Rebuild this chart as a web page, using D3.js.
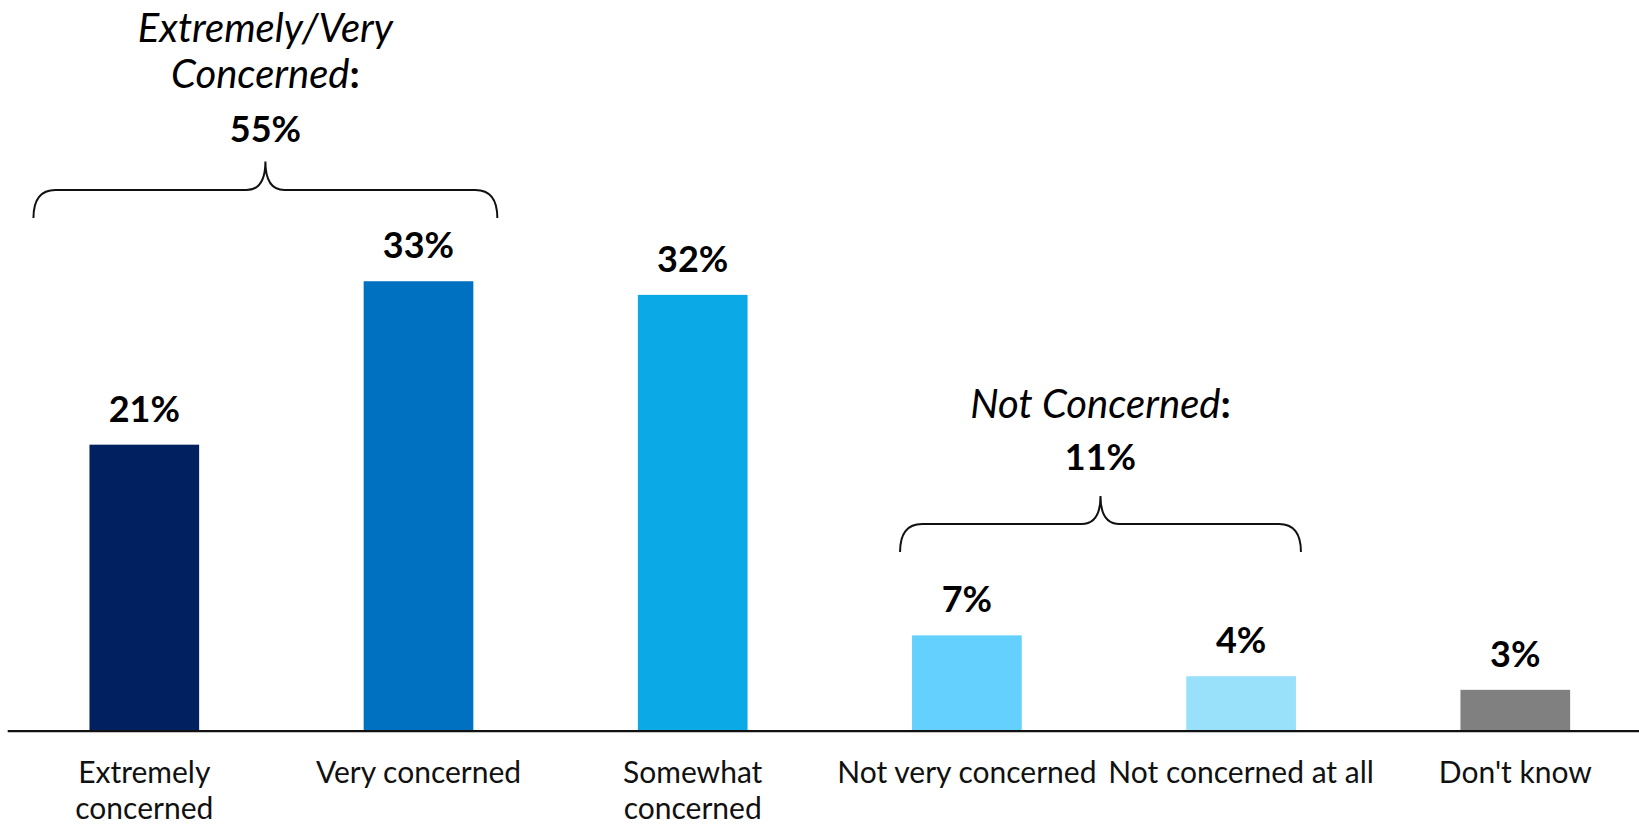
<!DOCTYPE html>
<html>
<head>
<meta charset="utf-8">
<script src="https://cdn.jsdelivr.net/npm/d3@7"></script>
<style>
  html, body { margin: 0; padding: 0; background: #fff; }
  svg { display: block; font-family: Lato, "Open Sans", sans-serif; }
</style>
</head>
<body>
<svg id="chart" width="1639" height="825"></svg>
<script>
// ---- Data ----
const categories = ["Extremely concerned", "Very concerned", "Somewhat concerned",
                    "Not very concerned", "Not concerned at all", "Don't know"];
const tickLabels = [["Extremely", "concerned"], ["Very concerned"], ["Somewhat", "concerned"],
                    ["Not very concerned"], ["Not concerned at all"], ["Don't know"]];
const values = [21, 33, 32, 7, 4, 3];
const colors = ["#002060", "#0070C0", "#0BA9E6", "#63D0FD", "#99E0FB", "#808080"];
const groupLabels = [["Extremely/Very", "Concerned"], ["Not Concerned"]];
const groupTotals = [55, 11];

// ---- Layout ----
const svg = d3.select("#chart");
const baseY = 730.7;

const x = d3.scaleBand()
  .domain(categories)
  .range([7.2, 1652.4])
  .paddingInner(0.6)
  .paddingOuter(0.3);

const y = d3.scaleLinear()
  .domain([0, 33])
  .range([baseY, baseY - 33 * 13.62]);

// bars
svg.append("g").selectAll("rect")
  .data(values)
  .join("rect")
  .attr("x", (d, i) => x(categories[i]))
  .attr("y", d => y(d))
  .attr("width", x.bandwidth())
  .attr("height", d => y(0) - y(d))
  .attr("fill", (d, i) => colors[i]);

// value labels
svg.append("g").selectAll("text")
  .data(values)
  .join("text")
  .attr("x", (d, i) => x(categories[i]) + x.bandwidth() / 2)
  .attr("y", d => y(d) - 23)
  .attr("text-anchor", "middle")
  .attr("font-size", 36)
  .attr("font-weight", "bold")
  .attr("fill", "#000")
  .text(d => d + "%");

// x axis
const axis = svg.append("g")
  .attr("transform", `translate(0,${baseY})`)
  .call(d3.axisBottom(x).tickSize(0).tickSizeOuter(0).tickFormat(""));
axis.select(".domain").attr("stroke", "#111").attr("stroke-width", 2.2);

axis.selectAll(".tick").each(function (d, i) {
  const t = d3.select(this).select("text")
    .attr("y", 0).attr("dy", null)
    .attr("font-size", 30)
    .attr("font-family", "Lato, 'Open Sans', sans-serif")
    .attr("fill", "#111")
    .attr("text-anchor", "middle");
  t.text(null);
  tickLabels[i].forEach((line, j) => {
    t.append("tspan")
      .attr("x", 0)
      .attr("y", 52.6 + j * 36)
      .text(line);
  });
});

// braces
function bracePath(x0, x1, yH, yTip, yEnd) {
  const xm = (x0 + x1) / 2, r = 22, r2 = 19;
  return `M${x0},${yEnd} Q${x0},${yH} ${x0 + r},${yH} L${xm - r2},${yH} ` +
         `Q${xm},${yH} ${xm},${yTip} Q${xm},${yH} ${xm + r2},${yH} ` +
         `L${x1 - r},${yH} Q${x1},${yH} ${x1},${yEnd}`;
}

const braces = [
  { x0: x(categories[0]) - 56, x1: x(categories[1]) + x.bandwidth() + 24, yH: 190, yTip: 161.5, yEnd: 218,
    lines: [41.7, 88.3], total: 141.7 },
  { x0: x(categories[3]) - 12, x1: x(categories[4]) + x.bandwidth() + 5, yH: 524, yTip: 496, yEnd: 552,
    lines: [418.3], total: 470 }
];

braces.forEach((b, i) => {
  svg.append("path")
    .attr("d", bracePath(b.x0, b.x1, b.yH, b.yTip, b.yEnd))
    .attr("fill", "none")
    .attr("stroke", "#111")
    .attr("stroke-width", 2);
  const cx = (b.x0 + b.x1) / 2;
  const labs = groupLabels[i];
  labs.forEach((line, j) => {
    const t = svg.append("text")
      .attr("x", cx)
      .attr("y", b.lines[j])
      .attr("text-anchor", "middle")
      .attr("font-size", 40)
      .attr("fill", "#000");
    t.append("tspan").attr("font-style", "italic").text(line);
    if (j === labs.length - 1) t.append("tspan").attr("font-weight", "bold").text(":");
  });
  svg.append("text")
    .attr("x", cx)
    .attr("y", b.total)
    .attr("text-anchor", "middle")
    .attr("font-size", 36)
    .attr("font-weight", "bold")
    .attr("fill", "#000")
    .text(groupTotals[i] + "%");
});
</script>
</body>
</html>
